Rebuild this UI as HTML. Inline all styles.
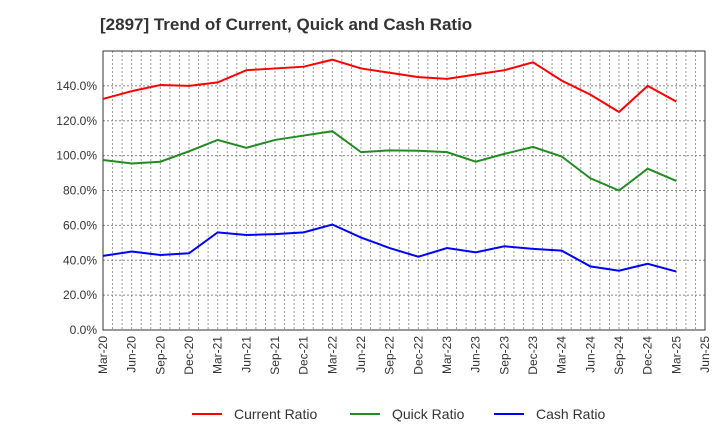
<!DOCTYPE html>
<html><head><meta charset="utf-8"><style>
body{margin:0;background:#fff;font-family:"Liberation Sans",sans-serif;}
</style></head><body>
<svg id="c" width="720" height="440" xmlns="http://www.w3.org/2000/svg" font-family="Liberation Sans, sans-serif">
<text x="100" y="30" font-size="17" font-weight="bold" fill="#333">[2897]  Trend of Current, Quick and Cash Ratio</text>
<g id="grid"></g><g id="axes"></g><g id="series"></g>
<g>
<line x1="192" y1="414" x2="222" y2="414" stroke="#f00" stroke-width="2"/><text x="234" y="419" font-size="14" fill="#333">Current Ratio</text>
<line x1="350" y1="414" x2="380" y2="414" stroke="#228B22" stroke-width="2"/><text x="392" y="419" font-size="14" fill="#333">Quick Ratio</text>
<line x1="494" y1="414" x2="524" y2="414" stroke="#00f" stroke-width="2"/><text x="536" y="419" font-size="14" fill="#333">Cash Ratio</text>
</g>
</svg>
<script>
const categories=["Mar-20","Jun-20","Sep-20","Dec-20","Mar-21","Jun-21","Sep-21","Dec-21","Mar-22","Jun-22","Sep-22","Dec-22","Mar-23","Jun-23","Sep-23","Dec-23","Mar-24","Jun-24","Sep-24","Dec-24","Mar-25","Jun-25"];
const currentRatio=[132.5,137,140.5,140,142,149,150,151,155,150,147.5,145,144,146.5,149,153.5,143,135,125,140,131];
const quickRatio=[97.5,95.5,96.5,102.5,109,104.5,109,111.5,114,102,103,102.8,102,96.5,101,105,99.5,87,80,92.5,85.5];
const cashRatio=[42.5,45,43,44,56,54.5,55,56,60.5,53,47,42,47,44.5,48,46.5,45.5,36.5,34,38,33.5];
const yTicks=[0,20,40,60,80,100,120,140];
const L=103,R=705,T=51,B=330,YMAX=160;
const xs=i=>L+i*(R-L)/(categories.length-1);
const ys=v=>B-v/YMAX*(B-T);
const NS="http://www.w3.org/2000/svg";
function mk(p,t,a){const e=document.createElementNS(NS,t);for(const k in a)e.setAttribute(k,a[k]);p.appendChild(e);return e;}
const grid=document.getElementById('grid'),axes=document.getElementById('axes'),ser=document.getElementById('series');
const n=(categories.length-1)*3;
for(let j=1;j<n;j++){const x=L+j*(R-L)/n;const g=mk(grid,'line',{x1:x,y1:T,x2:x,y2:B,stroke:'#999','stroke-dasharray':'2,2','stroke-width':1});

}
yTicks.forEach(v=>{const y=ys(v);
if(v>0){const g=mk(grid,'line',{x1:L,y1:y,x2:R,y2:y,stroke:'#888','stroke-dasharray':'2,2','stroke-width':1});

}
const t=mk(axes,'text',{x:L-6,y:y+4,'text-anchor':'end','font-size':12,fill:'#333'});t.textContent=v.toFixed(1)+'%';

});
const box=mk(axes,'rect',{x:L,y:T,width:R-L,height:B-T,fill:'none',stroke:'#333','stroke-width':1});


categories.forEach((c,i)=>{const x=xs(i);const t=mk(axes,'text',{x:x+4,y:B+6,'text-anchor':'end','font-size':12,fill:'#333',transform:`rotate(-90 ${x+4} ${B+6})`});t.textContent=c;

});
[[currentRatio,'#f00','current-ratio-line'],[quickRatio,'#228B22','quick-ratio-line'],[cashRatio,'#00f','cash-ratio-line']].forEach(([d,col,nm])=>{
const p=mk(ser,'polyline',{points:d.map((v,i)=>xs(i)+','+ys(v)).join(' '),fill:'none',stroke:col,'stroke-width':2});

});
</script>
</body></html>
